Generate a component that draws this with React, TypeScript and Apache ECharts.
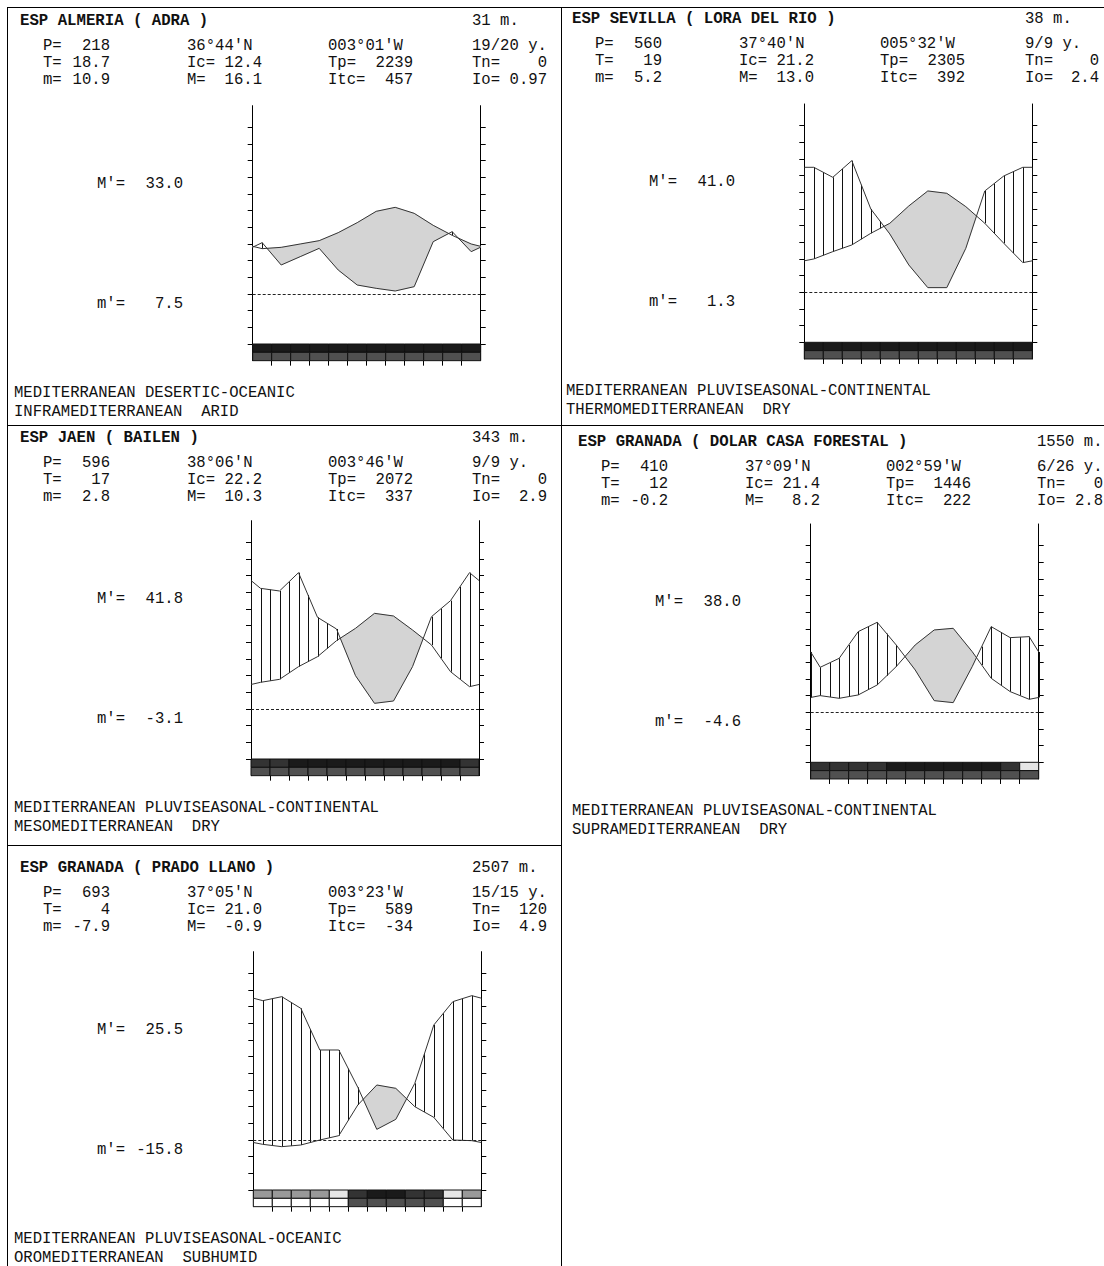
import React, { useEffect, useRef } from "react";
import * as echarts from "echarts";

// ---------- DATA ----------
const titles = [
  "ESP ALMERIA ( ADRA )",
  "ESP SEVILLA ( LORA DEL RIO )",
  "ESP JAEN ( BAILEN )",
  "ESP GRANADA ( DOLAR CASA FORESTAL )",
  "ESP GRANADA ( PRADO LLANO )",
];
const altitudes = ["31 m.", "38 m.", "343 m.", "1550 m.", "2507 m."];
const annualP = ["218", "560", "596", "410", "693"];
const annualT = ["18.7", "19", "17", "12", "4"];
const minColdest = ["10.9", "5.2", "2.8", "-0.2", "-7.9"];
const latitudes = ["36°44'N", "37°40'N", "38°06'N", "37°09'N", "37°05'N"];
const icValues = ["12.4", "21.2", "22.2", "21.4", "21.0"];
const maxColdest = ["16.1", "13.0", "10.3", "8.2", "-0.9"];
const longitudes = ["003°01'W", "005°32'W", "003°46'W", "002°59'W", "003°23'W"];
const tpValues = ["2239", "2305", "2072", "1446", "589"];
const itcValues = ["457", "392", "337", "222", "-34"];
const yearsObs = ["19/20 y.", "9/9 y.", "9/9 y.", "6/26 y.", "15/15 y."];
const tnValues = ["0", "0", "0", "0", "120"];
const ioValues = ["0.97", "2.4", "2.9", "2.8", "4.9"];
const absMax = ["33.0", "41.0", "41.8", "38.0", "25.5"];
const absMin = ["7.5", "1.3", "-3.1", "-4.6", "-15.8"];
const bioclimates = [
  "MEDITERRANEAN DESERTIC-OCEANIC",
  "MEDITERRANEAN PLUVISEASONAL-CONTINENTAL",
  "MEDITERRANEAN PLUVISEASONAL-CONTINENTAL",
  "MEDITERRANEAN PLUVISEASONAL-CONTINENTAL",
  "MEDITERRANEAN PLUVISEASONAL-OCEANIC",
];
const belts = [
  "INFRAMEDITERRANEAN  ARID",
  "THERMOMEDITERRANEAN  DRY",
  "MESOMEDITERRANEAN  DRY",
  "SUPRAMEDITERRANEAN  DRY",
  "OROMEDITERRANEAN  SUBHUMID",
];

// monthly mean temperature (°C), Jan..Dec
const almeriaTemp = [13.6, 14.0, 15.0, 16.0, 18.4, 21.4, 24.8, 26.0, 24.2, 20.6, 17.6, 15.0];
const sevillaTemp = [10.0, 12.2, 14.2, 17.7, 20.7, 25.9, 30.4, 29.7, 25.7, 20.7, 14.7, 8.9];
const jaenTemp = [8.0, 8.9, 12.7, 15.7, 20.5, 24.2, 28.7, 27.9, 23.7, 19.2, 11.2, 6.7];
const dolarTemp = [5.0, 4.2, 5.2, 8.2, 13.7, 20.2, 24.7, 25.2, 18.2, 10.2, 6.2, 3.9];
const pradoTemp = [-1.3, -2.0, -1.5, 0.0, 1.3, 10.5, 16.5, 15.5, 10.0, 6.8, 0.0, -0.2];

// monthly precipitation (mm), Jan..Dec
const almeriaPrec = [30.8, 17.4, 22.4, 27.4, 14.4, 5.4, 3.4, 1.8, 4.4, 31.4, 37.4, 25.4];
const sevillaPrec = [75, 69, 79, 50, 35, 16.4, 2.8, 2.8, 26.4, 60.8, 69.8, 75];
const jaenPrec = [72.4, 70.8, 81.8, 55, 48, 20, 3.4, 4.8, 25.4, 55.4, 65, 81.8];
const dolarPrec = [27, 32.4, 48.4, 54, 40.4, 25.4, 7, 5.8, 27.4, 51.4, 44.8, 45.4];
const pradoPrec = [83.6, 86, 79, 54, 54, 31.6, 6.4, 12.4, 34, 69, 83, 86.6];

// frost-period bands (shade level per month): 0 white .. 5 darkest
const almeriaFrostTop = [5, 5, 5, 5, 5, 5, 5, 5, 5, 5, 5, 5];
const almeriaFrostBottom = [3, 3, 3, 3, 3, 3, 3, 3, 3, 3, 3, 3];
const sevillaFrostTop = [5, 5, 5, 5, 5, 5, 5, 5, 5, 5, 5, 5];
const sevillaFrostBottom = [3, 3, 3, 3, 3, 3, 3, 3, 3, 3, 3, 3];
const jaenFrostTop = [4, 4, 5, 5, 5, 5, 5, 5, 5, 5, 5, 4];
const jaenFrostBottom = [3, 3, 3, 3, 3, 3, 3, 3, 3, 3, 3, 3];
const dolarFrostTop = [4, 4, 4, 4, 5, 5, 5, 5, 5, 5, 4, 1];
const dolarFrostBottom = [3, 3, 3, 3, 3, 3, 3, 3, 3, 3, 3, 3];
const pradoFrostTop = [2, 2, 2, 2, 1, 4, 5, 5, 4, 4, 1, 2];
const pradoFrostBottom = [0, 0, 0, 0, 0, 3, 3, 3, 3, 3, 0, 0];

const temps = [almeriaTemp, sevillaTemp, jaenTemp, dolarTemp, pradoTemp];
const precs = [almeriaPrec, sevillaPrec, jaenPrec, dolarPrec, pradoPrec];
const frostTops = [almeriaFrostTop, sevillaFrostTop, jaenFrostTop, dolarFrostTop, pradoFrostTop];
const frostBottoms = [almeriaFrostBottom, sevillaFrostBottom, jaenFrostBottom, dolarFrostBottom, pradoFrostBottom];

const tempTicks = [-15, -10, -5, 0, 5, 10, 15, 20, 25, 30, 35, 40, 45, 50];
const precTicks = [-30, -20, -10, 0, 10, 20, 30, 40, 50, 60, 70, 80, 90, 100];
const monthTicks = [1, 2, 3, 4, 5, 6, 7, 8, 9, 10, 11];

// ---------- LAYOUT / STYLE ----------
const SHADES = ["#ffffff", "#e6e6e6", "#999999", "#505050", "#333333", "#1a1a1a"];
const P_PER_T = 2; // 10 °C = 20 mm
const T_MIN = -20;
const T_MAX = 56.5;
const PX_PER_DEG = 16.667 / 5;
const GRID_W = 228;

const panels = [
  { tx: 0, ty: 0, t0: 294, gx: 252.7, c4: 472, r4: 547 },
  { tx: 552, ty: 0, t0: 292.3, gx: 804.3, c4: 1025, r4: 1099 },
  { tx: 0, ty: 2, t0: 709, gx: 251, c4: 472, r4: 547 },
  { tx: 558, ty: 3, t0: 712.3, gx: 810.7, c4: 1037, r4: 1103 },
  { tx: 0, ty: 1, t0: 1140, gx: 253.3, c4: 472, r4: 547 },
];

const FONT = '15.6px "Liberation Mono", "DejaVu Sans Mono", monospace';
const BOLD = 'bold 15.7px "Liberation Mono", "DejaVu Sans Mono", monospace';

function curve(vals: number[], scale = 1) {
  const v = vals.map((x) => x / scale);
  const edge = (v[0] + v[11]) / 2;
  const pts: number[][] = [[0, edge]];
  v.forEach((x, i) => pts.push([i + 0.5, x]));
  pts.push([12, edge]);
  return pts;
}

function interp(pts: number[][], x: number) {
  for (let i = 0; i < pts.length - 1; i++) {
    const [x0, y0] = pts[i];
    const [x1, y1] = pts[i + 1];
    if (x >= x0 && x <= x1) return y0 + ((x - x0) / (x1 - x0)) * (y1 - y0);
  }
  return pts[pts.length - 1][1];
}

function txt(text: string, x: number, y: number, font: string, align = "left") {
  return {
    type: "text",
    x,
    y,
    silent: true,
    style: {
      text,
      x: 0,
      y: 0,
      font,
      fill: "#111",
      align,
      verticalAlign: "middle",
      textAlign: align,
      textVerticalAlign: "middle",
    },
  };
}

function line(x1: number, y1: number, x2: number, y2: number) {
  return {
    type: "line",
    silent: true,
    shape: { x1, y1, x2, y2 },
    style: { stroke: "#000", lineWidth: 1 },
  };
}

function buildOption() {
  const grids: any[] = [];
  const xAxes: any[] = [];
  const yAxes: any[] = [];
  const series: any[] = [];
  const graphics: any[] = [];

  panels.forEach((pl, i) => {
    const top = pl.t0 - T_MAX * PX_PER_DEG;
    const height = (T_MAX - T_MIN) * PX_PER_DEG;
    grids.push({ left: pl.gx, top, width: GRID_W, height, containLabel: false });
    xAxes.push({
      type: "value",
      gridIndex: i,
      position: "bottom",
      min: 0,
      max: 12,
      axisLine: { show: false, onZero: false },
      axisTick: { show: true, length: 5, inside: false, customValues: monthTicks, lineStyle: { color: "#000" } },
      axisLabel: { show: false },
      splitLine: { show: false },
    });
    yAxes.push({
      type: "value",
      gridIndex: i,
      position: "left",
      min: T_MIN,
      max: T_MAX,
      axisLine: { show: true, onZero: false, lineStyle: { color: "#000", width: 1 } },
      axisTick: { show: true, length: 5, inside: false, customValues: tempTicks, lineStyle: { color: "#000" } },
      axisLabel: { show: false },
      splitLine: { show: false },
    });
    yAxes.push({
      type: "value",
      gridIndex: i,
      position: "right",
      min: T_MIN * P_PER_T,
      max: T_MAX * P_PER_T,
      axisLine: { show: true, onZero: false, lineStyle: { color: "#000", width: 1 } },
      axisTick: { show: true, length: 5, inside: false, customValues: precTicks, lineStyle: { color: "#000" } },
      axisLabel: { show: false },
      splitLine: { show: false },
    });

    const tPts = curve(temps[i]);
    const pPtsT = curve(precs[i], P_PER_T);

    // dry (grey) area and humid (hatched) area
    series.push({
      type: "custom",
      xAxisIndex: i,
      yAxisIndex: 2 * i,
      silent: true,
      z: 1,
      data: [[0, 0]],
      renderItem: (_params: any, api: any) => {
        const children: any[] = [];
        const n = tPts.length;
        const d = tPts.map((p, k) => p[1] - pPtsT[k][1]);
        let cur: { top: number[][]; bot: number[][] } | null = null;
        const regions: { top: number[][]; bot: number[][] }[] = [];
        const cross = (k: number) => {
          const f = d[k - 1] / (d[k - 1] - d[k]);
          const x = tPts[k - 1][0] + f * (tPts[k][0] - tPts[k - 1][0]);
          const y = tPts[k - 1][1] + f * (tPts[k][1] - tPts[k - 1][1]);
          return [x, y];
        };
        for (let k = 0; k < n; k++) {
          if (d[k] > 0) {
            if (!cur) {
              cur = { top: [], bot: [] };
              if (k > 0 && d[k - 1] <= 0) {
                const c = cross(k);
                cur.top.push(c);
                cur.bot.push(c);
              }
            }
            cur.top.push(tPts[k]);
            cur.bot.push(pPtsT[k]);
          } else if (cur) {
            const c = cross(k);
            cur.top.push(c);
            cur.bot.push(c);
            regions.push(cur);
            cur = null;
          }
        }
        if (cur) regions.push(cur);
        regions.forEach((r) => {
          const pts = r.top.concat(r.bot.slice().reverse()).map((p) => api.coord(p));
          children.push({
            type: "polygon",
            shape: { points: pts },
            style: { fill: "#d4d4d4", stroke: "#d4d4d4", lineWidth: 0.5 },
          });
        });
        for (let h = 0; h <= 24; h++) {
          const x = h / 2;
          const tv = interp(tPts, x);
          const pv = interp(pPtsT, x);
          if (pv > tv) {
            const a = api.coord([x, tv]);
            const b = api.coord([x, pv]);
            children.push({
              type: "line",
              shape: { x1: Math.round(a[0]) + 0.5, y1: a[1], x2: Math.round(a[0]) + 0.5, y2: b[1] },
              style: { stroke: "#111", lineWidth: 1 },
            });
          }
        }
        return { type: "group", children };
      },
    });

    // frost bands
    const bandData: number[][] = [];
    frostTops[i].forEach((s, m) => bandData.push([m, 0, s]));
    frostBottoms[i].forEach((s, m) => bandData.push([m, 1, s]));
    series.push({
      type: "custom",
      xAxisIndex: i,
      yAxisIndex: 2 * i,
      silent: true,
      z: 2,
      data: bandData,
      renderItem: (_params: any, api: any) => {
        const m = api.value(0);
        const r = api.value(1);
        const s = api.value(2);
        const a = api.coord([m, -15 - 2.5 * r]);
        const b = api.coord([m + 1, -17.5 - 2.5 * r]);
        return {
          type: "rect",
          shape: { x: a[0], y: a[1], width: b[0] - a[0], height: b[1] - a[1] },
          style: { fill: SHADES[s], stroke: "#111", lineWidth: 1 },
        };
      },
    });

    series.push({
      type: "line",
      xAxisIndex: i,
      yAxisIndex: 2 * i,
      data: tPts,
      symbol: "none",
      silent: true,
      z: 3,
      lineStyle: { color: "#333", width: 1 },
      markLine: {
        silent: true,
        symbol: ["none", "none"],
        label: { show: false },
        lineStyle: { color: "#222", width: 1, type: [3, 2] },
        data: [{ yAxis: 0 }],
      },
    });
    series.push({
      type: "line",
      xAxisIndex: i,
      yAxisIndex: 2 * i + 1,
      data: curve(precs[i]),
      symbol: "none",
      silent: true,
      z: 3,
      lineStyle: { color: "#333", width: 1 },
    });

    // texts
    const ox = pl.tx;
    const t0 = pl.t0;
    const hy = t0 + pl.ty;
    graphics.push(txt(titles[i], 20 + ox, hy - 273, BOLD));
    graphics.push(txt(altitudes[i], pl.c4, hy - 273, FONT));
    const rows = [hy - 248, hy - 231, hy - 214];
    const colX = [43 + ox, 187 + ox, 328 + ox, pl.c4];
    const valR = [110 + ox, 262 + ox, 413 + ox, pl.r4];
    // row 1
    graphics.push(txt("P=", colX[0], rows[0], FONT));
    graphics.push(txt(annualP[i], valR[0], rows[0], FONT, "right"));
    graphics.push(txt(latitudes[i], colX[1], rows[0], FONT));
    graphics.push(txt(longitudes[i], colX[2], rows[0], FONT));
    graphics.push(txt(yearsObs[i], colX[3], rows[0], FONT));
    // row 2
    graphics.push(txt("T=", colX[0], rows[1], FONT));
    graphics.push(txt(annualT[i], valR[0], rows[1], FONT, "right"));
    graphics.push(txt("Ic=", colX[1], rows[1], FONT));
    graphics.push(txt(icValues[i], valR[1], rows[1], FONT, "right"));
    graphics.push(txt("Tp=", colX[2], rows[1], FONT));
    graphics.push(txt(tpValues[i], valR[2], rows[1], FONT, "right"));
    graphics.push(txt("Tn=", colX[3], rows[1], FONT));
    graphics.push(txt(tnValues[i], valR[3], rows[1], FONT, "right"));
    // row 3
    graphics.push(txt("m=", colX[0], rows[2], FONT));
    graphics.push(txt(minColdest[i], valR[0], rows[2], FONT, "right"));
    graphics.push(txt("M=", colX[1], rows[2], FONT));
    graphics.push(txt(maxColdest[i], valR[1], rows[2], FONT, "right"));
    graphics.push(txt("Itc=", colX[2], rows[2], FONT));
    graphics.push(txt(itcValues[i], valR[2], rows[2], FONT, "right"));
    graphics.push(txt("Io=", colX[3], rows[2], FONT));
    graphics.push(txt(ioValues[i], valR[3], rows[2], FONT, "right"));
    // absolute extremes
    graphics.push(txt("M'=", 97 + ox, t0 - 110, FONT));
    graphics.push(txt(absMax[i], 183 + ox, t0 - 110, FONT, "right"));
    graphics.push(txt("m'=", 97 + ox, t0 + 9.5, FONT));
    graphics.push(txt(absMin[i], 183 + ox, t0 + 9.5, FONT, "right"));
    // classification
    graphics.push(txt(bioclimates[i], 14 + ox, t0 + 99, FONT));
    graphics.push(txt(belts[i], 14 + ox, t0 + 117.5, FONT));
  });

  // panel borders
  graphics.push(line(7.5, 7, 7.5, 1266));
  graphics.push(line(7, 7.5, 1104, 7.5));
  graphics.push(line(561.5, 7, 561.5, 1266));
  graphics.push(line(7, 425.5, 1104, 425.5));
  graphics.push(line(7, 845.5, 561, 845.5));

  return {
    animation: false,
    backgroundColor: "#ffffff",
    grid: grids,
    xAxis: xAxes,
    yAxis: yAxes,
    series,
    graphic: { elements: graphics },
  };
}

export default function App() {
  const ref = useRef<HTMLDivElement>(null);
  useEffect(() => {
    if (!ref.current) return;
    const chart = echarts.init(ref.current, undefined, { renderer: "svg" });
    chart.setOption(buildOption() as any);
    return () => chart.dispose();
  }, []);
  return (
    <div
      ref={ref}
      style={{ position: "absolute", left: 0, top: 0, width: 1104, height: 1266, background: "#fff" }}
    />
  );
}
